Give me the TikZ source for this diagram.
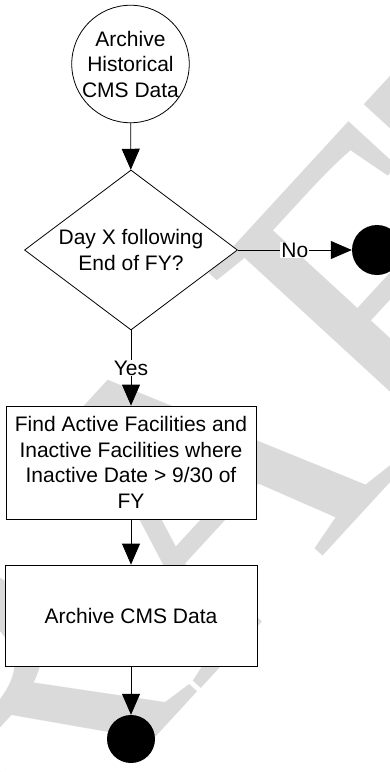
\documentclass[tikz,border=0pt]{standalone}
\usepackage{fontspec}
\setmainfont{Liberation Sans}
\newfontfamily\wmfont{Liberation Serif}
\usetikzlibrary{shapes.geometric,arrows.meta}
\definecolor{wmgray}{RGB}{218,218,218}
\begin{document}
\begin{tikzpicture}[x=1pt,y=-1pt,
  base/.style={draw=black, line width=0.8pt, fill=white, align=center,
    font=\fontsize{21}{25.5}\selectfont, inner sep=0pt},
  startnode/.style={base, circle, minimum size=114pt},
  decision/.style={base, diamond, aspect=1.33, minimum width=213pt, minimum height=160pt},
  process/.style={base, rectangle},
  terminal/.style={circle, fill=black, draw=none, minimum size=#1, inner sep=0pt},
  flow/.style={line width=0.8pt, -{Triangle[length=21pt,width=18pt]}},
  edgelabel/.style={fill=white, inner sep=1pt, font=\fontsize{21}{25.5}\selectfont}
]
\useasboundingbox (0,0) rectangle (390,772);
\fill[white] (0,0) rectangle (390,772);

% watermark behind the chart
\node[rotate=47.4, anchor=base west, text=wmgray, inner sep=0pt,
  font=\wmfont\fontsize{420}{420}\selectfont] (wm) at (-196.5,1121.3) {DRAFT};

% nodes
\node[startnode] (start) at (130.5,64) {Archive\\Historical\\CMS Data};
\node[decision] (dec) at (131,250) {Day X following\\End of FY?};
\node[terminal=50pt] (stopA) at (377,250) {};
\node[process, minimum width=250pt, minimum height=113pt] (find) at (131,462.5)
  {Find Active Facilities and\\Inactive Facilities where\\Inactive Date > 9/30 of\\FY};
\node[process, minimum width=252pt, minimum height=101pt] (arch) at (131,615.5)
  {Archive CMS Data};
\node[terminal=48pt] (stopB) at (131,739) {};

% connectors
\draw[flow] (start) -- (dec);
\draw[flow] (dec.east) -- node[edgelabel] {No} (stopA);
\draw[flow] (dec.south) -- node[edgelabel] {Yes} (find);
\draw[flow] (find) -- (arch);
\draw[flow] (arch) -- (stopB);
\end{tikzpicture}
\end{document}
